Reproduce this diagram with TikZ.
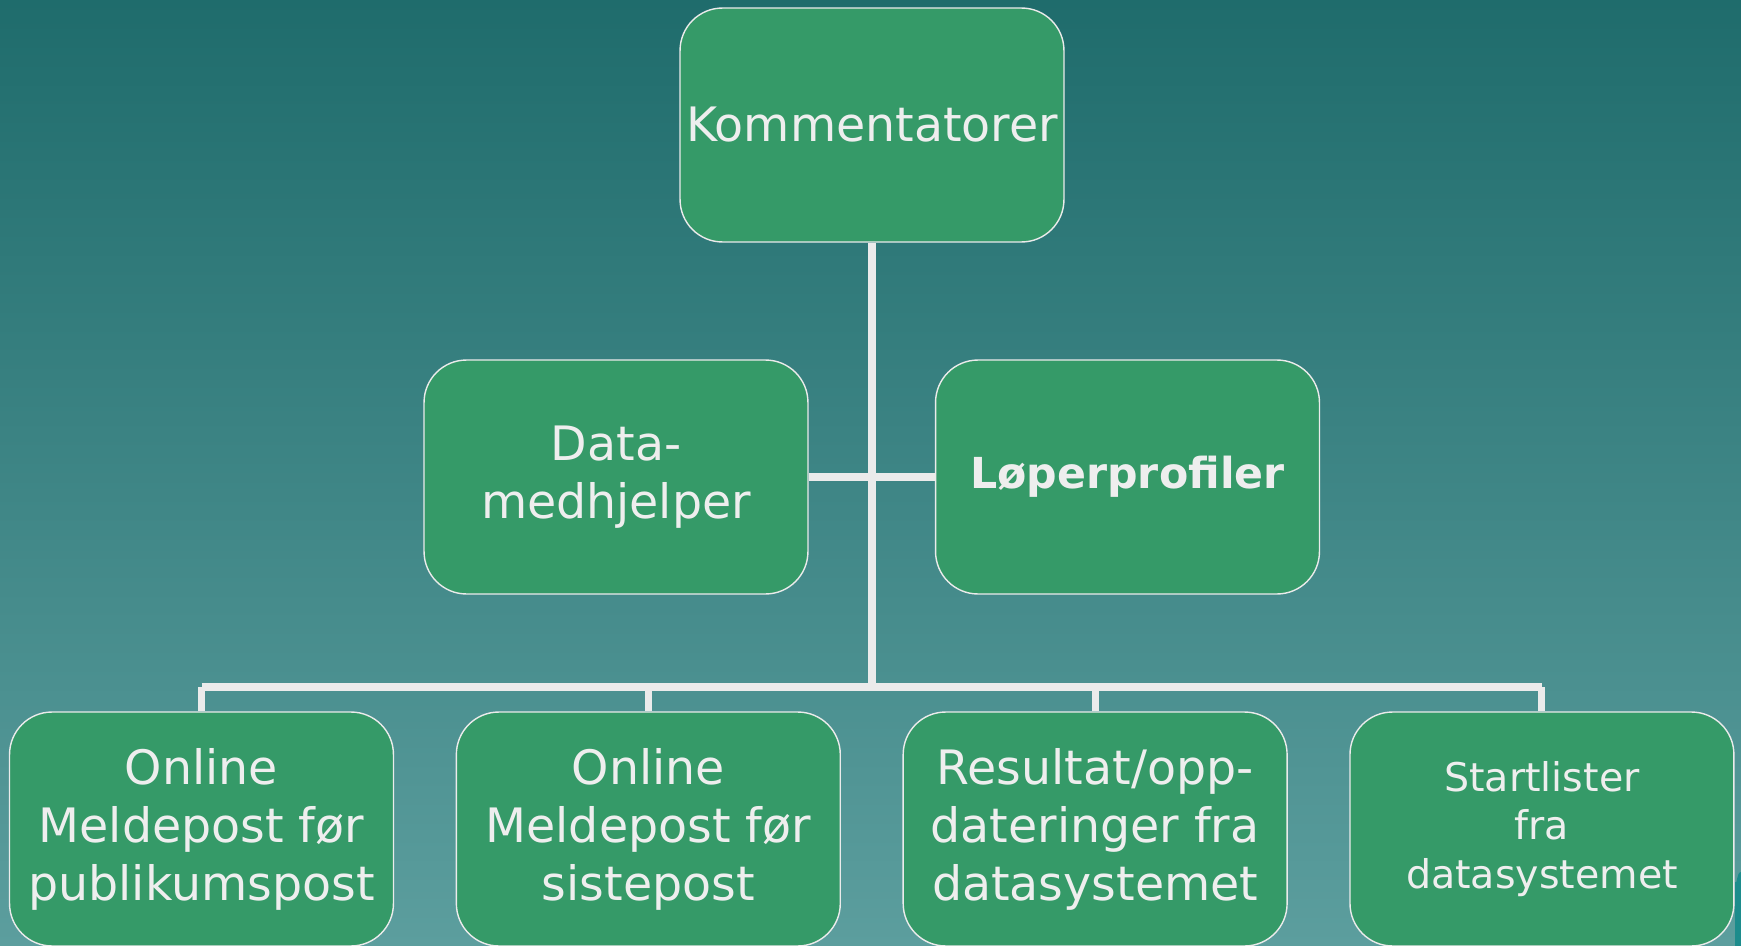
\documentclass[tikz,border=0pt]{standalone}
\usepackage{fontspec}
\setmainfont{DejaVu Sans}
\usepackage{tikz}
\usetikzlibrary{positioning, calc}

\definecolor{boxgreen}{RGB}{53,154,104}
\definecolor{bgtop}{RGB}{31,108,108}
\definecolor{bgbottom}{RGB}{92,158,158}
\definecolor{linegrey}{RGB}{235,235,235}
\definecolor{textgrey}{RGB}{238,238,238}
\definecolor{cornerteal}{RGB}{28,140,140}

\begin{document}
\begin{tikzpicture}[x=0.02cm, y=-0.02cm,
    orgbox/.style={rectangle, rounded corners=0.85cm, draw=linegrey, line width=0.8pt,
        fill=boxgreen, text=textgrey, align=center, minimum width=7.68cm, minimum height=4.68cm,
        inner sep=0pt, font=\fontsize{27}{33}\selectfont},
    smalltext/.style={font=\fontsize{22.5}{27.5}\selectfont},
    link/.style={draw=linegrey, line width=4pt}]
    % Background
    \shade[top color=bgtop, bottom color=bgbottom] (0,0) rectangle (1741,946);
    \fill[cornerteal] (1735,882) to[out=-60, in=180] (1741,872) -- (1741,946) -- (1735,946) -- cycle;
    \useasboundingbox (0,0) rectangle (1741,946);

    % Top box
    \node (komm) [orgbox] at (872,125) {Kommentatorer};

    % Assistant boxes
    \node (data) [orgbox] at (616,477) {Data-\\medhjelper};
    \node (lop) [orgbox, font=\fontsize{24.3}{30}\selectfont\bfseries] at (1127.5,477) {Løperprofiler};

    % Bottom row
    \node (pub) [orgbox] at (201.5,829) {Online\\Meldepost før\\publikumspost};
    \node (siste) [orgbox, right=1.23cm of pub] {Online\\Meldepost før\\sistepost};
    \node (res) [orgbox, right=1.23cm of siste] {Resultat/opp-\\dateringer fra\\datasystemet};
    \node (start) [orgbox, smalltext, right=1.23cm of res] {Startlister\\fra\\datasystemet};

    % Connectors
    \coordinate (hub) at (872,687);
    \draw[link] (komm.south) -- (hub);
    \draw[link] (data.east) -- (lop.west);
    \draw[link] (pub.north |- hub) -- (start.north |- hub);
    \draw[link] (pub.north) -- (pub.north |- hub);
    \draw[link] (siste.north) -- (siste.north |- hub);
    \draw[link] (res.north) -- (res.north |- hub);
    \draw[link] (start.north) -- (start.north |- hub);
\end{tikzpicture}
\end{document}
